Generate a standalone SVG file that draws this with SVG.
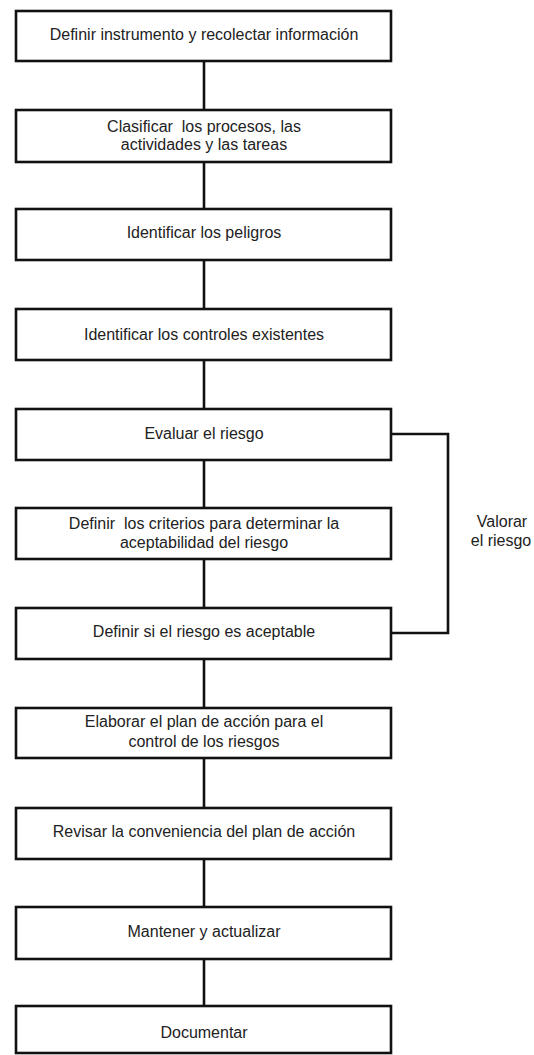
<svg xmlns="http://www.w3.org/2000/svg" width="534" height="1055" viewBox="0 0 534 1055">
<style>
.box{fill:#fff;stroke:#111;stroke-width:2.6}
.ln{fill:none;stroke:#111;stroke-width:2.6}
.t{font-family:"Liberation Sans",Arial,sans-serif;font-size:16px;fill:#222;text-anchor:middle;white-space:pre}
</style>
<rect width="534" height="1055" fill="#fff"/>
<g id="connectors">
<line class="ln" x1="204" y1="61" x2="204" y2="110"/>
<line class="ln" x1="204" y1="162" x2="204" y2="209"/>
<line class="ln" x1="204" y1="260" x2="204" y2="309"/>
<line class="ln" x1="204" y1="360" x2="204" y2="409"/>
<line class="ln" x1="204" y1="460" x2="204" y2="508"/>
<line class="ln" x1="204" y1="559" x2="204" y2="608"/>
<line class="ln" x1="204" y1="659" x2="204" y2="708"/>
<line class="ln" x1="204" y1="758" x2="204" y2="808"/>
<line class="ln" x1="204" y1="859" x2="204" y2="907"/>
<line class="ln" x1="204" y1="959" x2="204" y2="1006"/>
<path class="ln" d="M391 434 H448 V633 H391"/>
</g>
<g id="n1"><rect class="box" x="16" y="11" width="375" height="50"/><text class="t" x="204" y="40">Definir instrumento y recolectar información</text></g>
<g id="n2"><rect class="box" x="16" y="110" width="375" height="52"/><text class="t" x="204" y="132" xml:space="preserve">Clasificar  los procesos, las</text><text class="t" x="204" y="150">actividades y las tareas</text></g>
<g id="n3"><rect class="box" x="16" y="209" width="375" height="51"/><text class="t" x="204" y="238">Identificar los peligros</text></g>
<g id="n4"><rect class="box" x="16" y="309" width="375" height="51"/><text class="t" x="204" y="340">Identificar los controles existentes</text></g>
<g id="n5"><rect class="box" x="16" y="409" width="375" height="51"/><text class="t" x="204" y="439">Evaluar el riesgo</text></g>
<g id="n6"><rect class="box" x="16" y="508" width="375" height="51"/><text class="t" x="204" y="529" xml:space="preserve">Definir  los criterios para determinar la</text><text class="t" x="204" y="548">aceptabilidad del riesgo</text></g>
<g id="n7"><rect class="box" x="16" y="608" width="375" height="51"/><text class="t" x="204" y="637">Definir si el riesgo es aceptable</text></g>
<g id="n8"><rect class="box" x="16" y="708" width="375" height="50"/><text class="t" x="204" y="727">Elaborar el plan de acción para el</text><text class="t" x="204" y="747">control de los riesgos</text></g>
<g id="n9"><rect class="box" x="16" y="808" width="375" height="51"/><text class="t" x="204" y="837">Revisar la conveniencia del plan de acción</text></g>
<g id="n10"><rect class="box" x="16" y="907" width="375" height="52"/><text class="t" x="204" y="937">Mantener y actualizar</text></g>
<g id="n11"><rect class="box" x="16" y="1006" width="375" height="47"/><text class="t" x="204" y="1038">Documentar</text></g>
<g id="label"><text class="t" x="502" y="527">Valorar</text><text class="t" x="501" y="546">el riesgo</text></g>
</svg>
